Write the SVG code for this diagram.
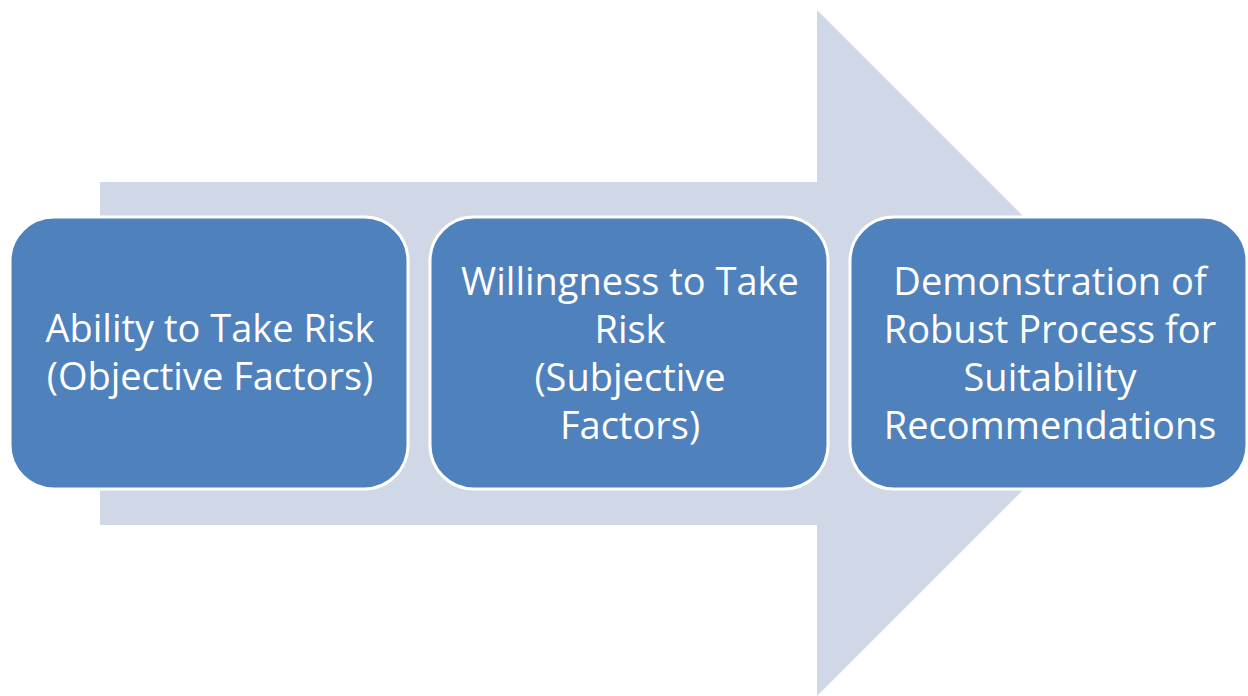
<svg xmlns="http://www.w3.org/2000/svg" width="1248" height="696" viewBox="0 0 1248 696">
  <style>
    .step { fill: #4f81bd; stroke: #ffffff; stroke-width: 3; }
    .label { fill: #ffffff; font-family: "Open Sans", "Liberation Sans", sans-serif; font-size: 38px; text-anchor: middle; }
  </style>
  <rect width="1248" height="696" fill="#ffffff"/>

  <!-- background process arrow -->
  <g id="connectors">
    <polygon points="100,182 817,182 817,10 1160,353 817,696 817,525 100,525" fill="#d0d8e8"/>
  </g>

  <g id="node-ability">
    <rect class="step" x="10" y="217" width="398" height="272" rx="44" ry="44"/>
    <text class="label" x="210" y="342">Ability to Take Risk</text>
    <text class="label" x="210" y="390">(Objective Factors)</text>
  </g>

  <g id="node-willingness">
    <rect class="step" x="430" y="217" width="398" height="272" rx="44" ry="44"/>
    <text class="label" x="630" y="295">Willingness to Take</text>
    <text class="label" x="630" y="343">Risk</text>
    <text class="label" x="630" y="391">(Subjective</text>
    <text class="label" x="630" y="439">Factors)</text>
  </g>

  <g id="node-demonstration">
    <rect class="step" x="850" y="217" width="397" height="272" rx="44" ry="44"/>
    <text class="label" x="1050" y="295">Demonstration of</text>
    <text class="label" x="1050" y="343">Robust Process for</text>
    <text class="label" x="1050" y="391">Suitability</text>
    <text class="label" x="1050" y="439">Recommendations</text>
  </g>
</svg>
